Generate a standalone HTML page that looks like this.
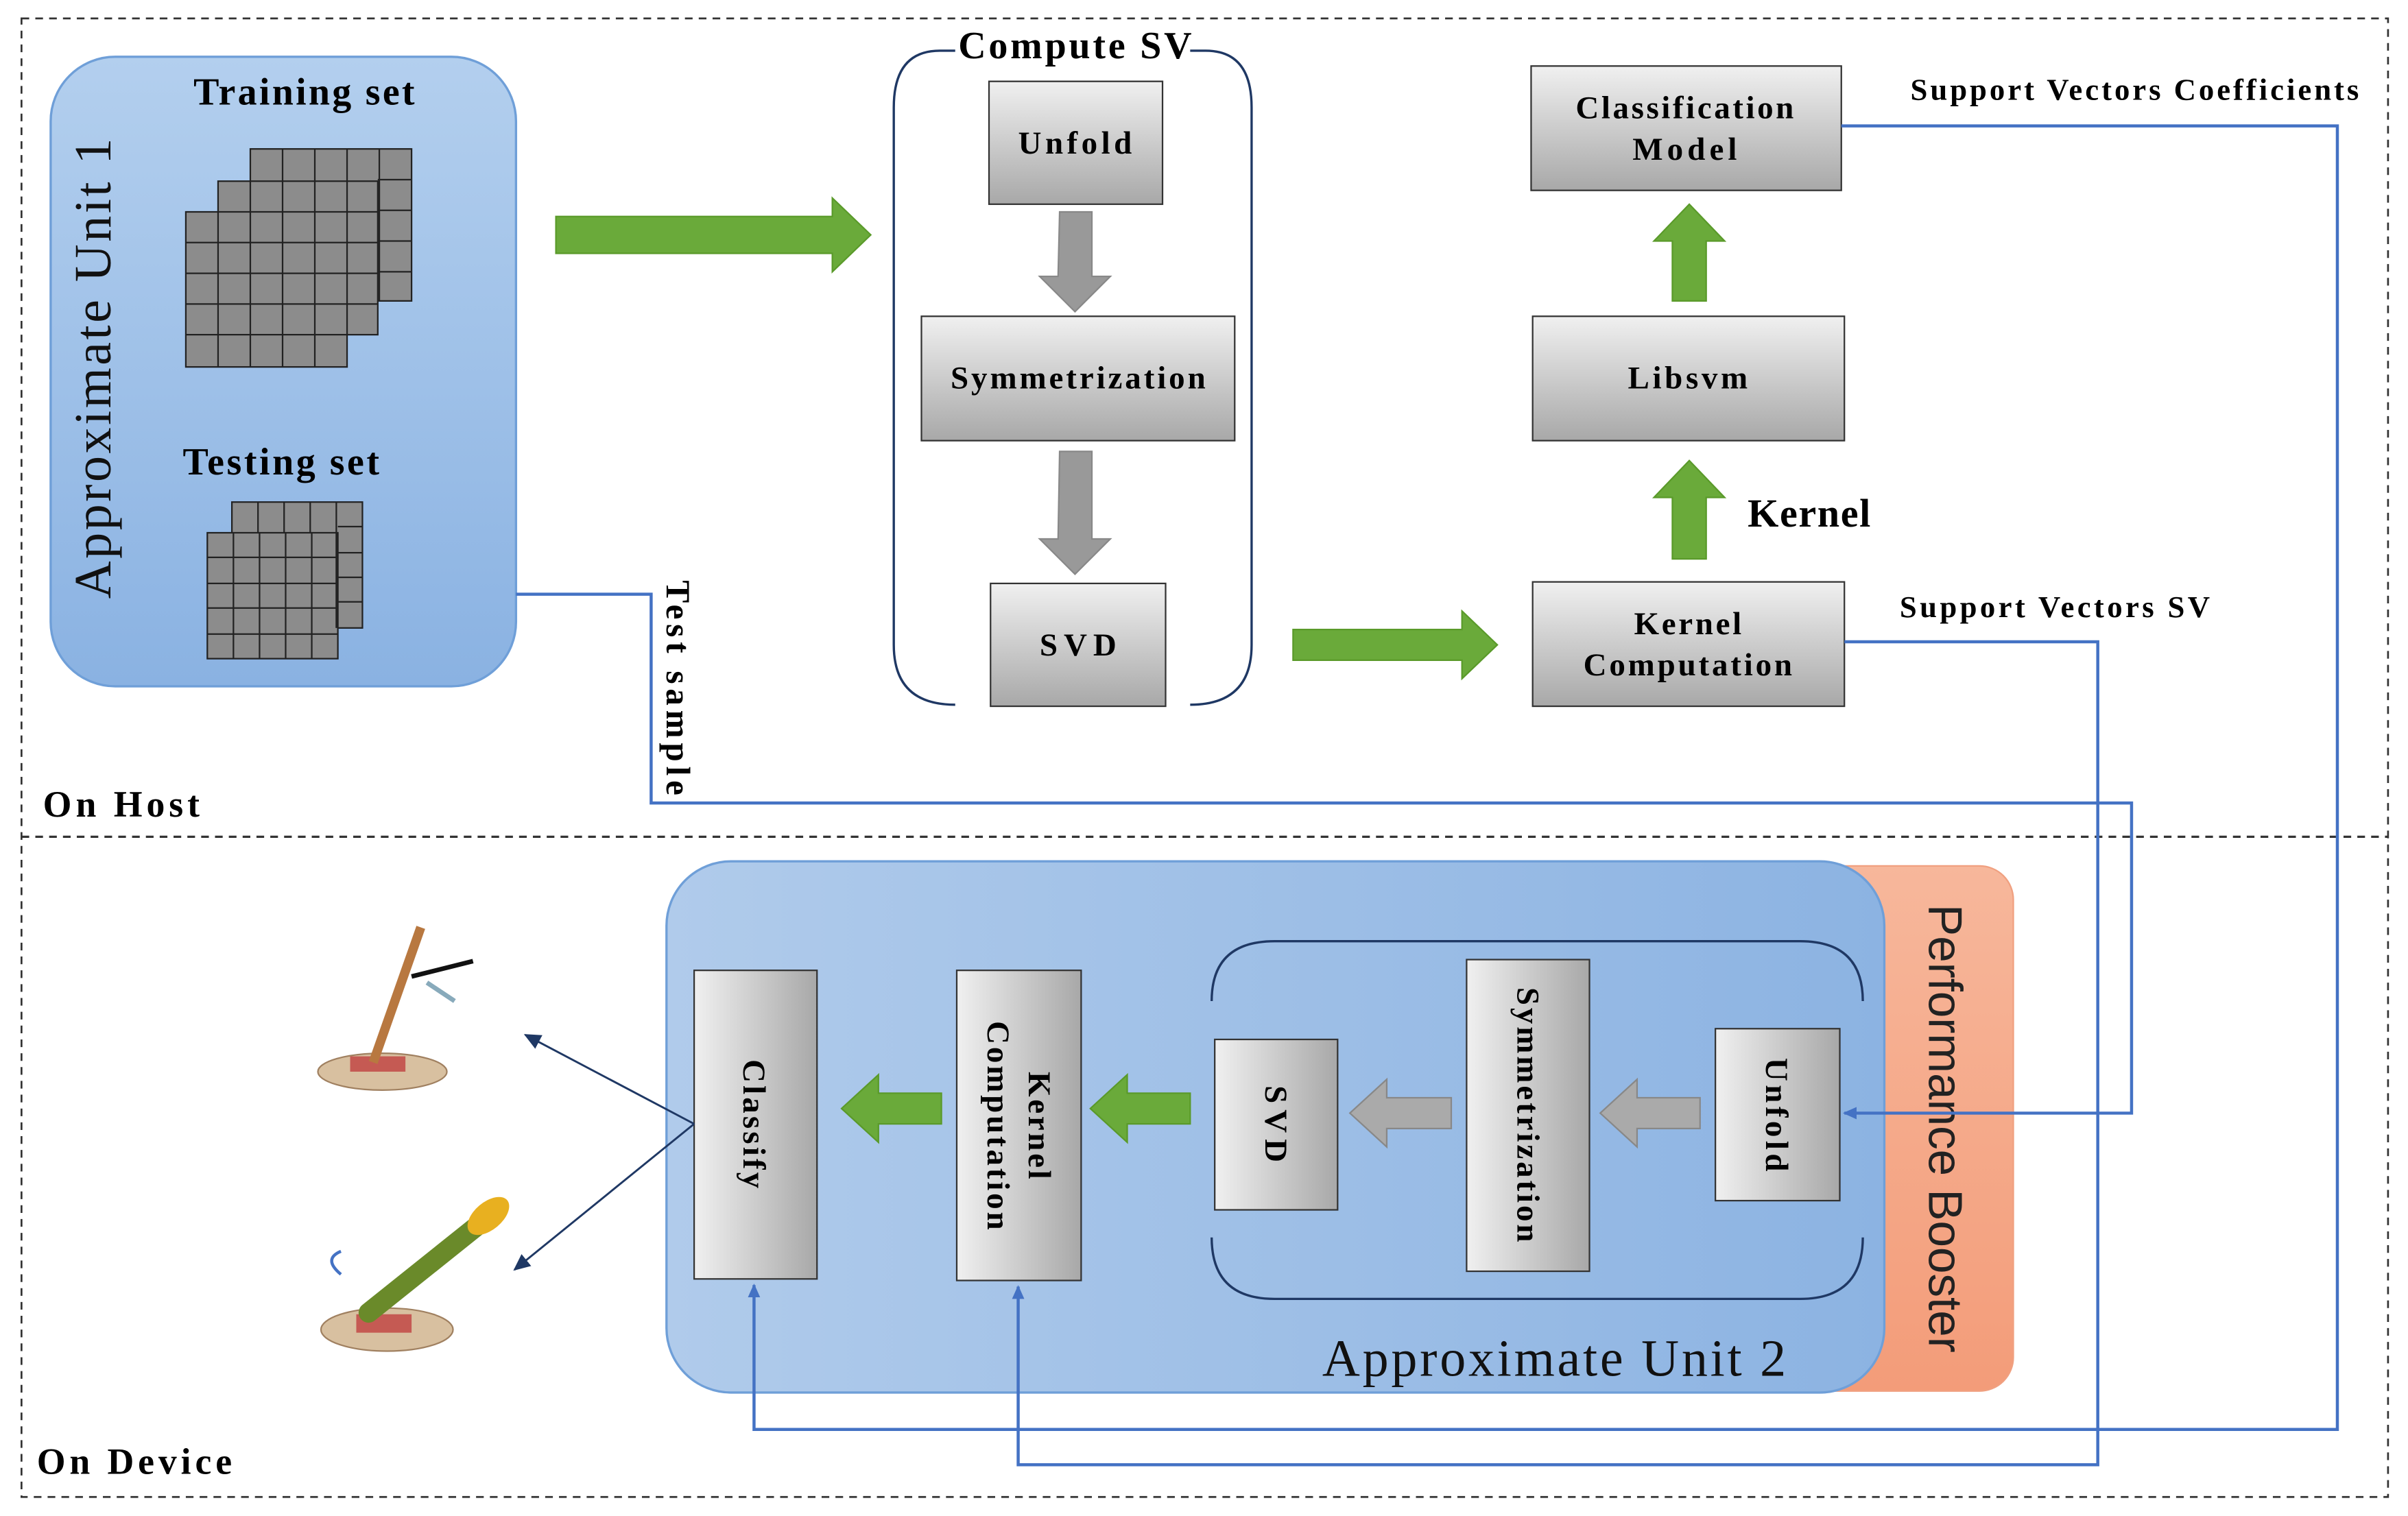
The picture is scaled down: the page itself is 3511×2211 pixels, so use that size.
<!DOCTYPE html>
<html><head><meta charset="utf-8">
<style>
html,body{margin:0;padding:0;background:#fff;}
svg{display:block;}
text{font-family:"Liberation Serif",serif;}
.b{font-weight:bold;}
</style></head>
<body>
<svg width="3511" height="2211" viewBox="0 0 1568 987.4" preserveAspectRatio="none" xmlns="http://www.w3.org/2000/svg">
<defs>
<linearGradient id="au1" x1="0" y1="0" x2="0" y2="1"><stop offset="0" stop-color="#b3cfee"/><stop offset="1" stop-color="#8ab2e2"/></linearGradient>
<linearGradient id="au2" x1="0" y1="0" x2="1" y2="0"><stop offset="0" stop-color="#b0cbeb"/><stop offset="1" stop-color="#8cb3e2"/></linearGradient>
<linearGradient id="gb" x1="0" y1="0" x2="0" y2="1"><stop offset="0" stop-color="#f0f0f0"/><stop offset="1" stop-color="#a8a8a8"/></linearGradient>
<linearGradient id="gbh" x1="0" y1="0" x2="1" y2="0"><stop offset="0" stop-color="#f0f0f0"/><stop offset="1" stop-color="#a8a8a8"/></linearGradient>
<linearGradient id="or" x1="0" y1="0" x2="0" y2="1"><stop offset="0" stop-color="#f7b79b"/><stop offset="1" stop-color="#f39c79"/></linearGradient>
<marker id="ab" markerWidth="10" markerHeight="10" refX="8" refY="5" orient="auto" markerUnits="userSpaceOnUse"><path d="M0,1 L9,5 L0,9 Z" fill="#4472c4"/></marker>
<marker id="ad" markerWidth="12" markerHeight="12" refX="10" refY="6" orient="auto" markerUnits="userSpaceOnUse"><path d="M0,1 L11,6 L0,11 Z" fill="#1f3864"/></marker>
</defs>

<rect x="14" y="12" width="1541" height="963" fill="none" stroke="#333" stroke-width="1.2" stroke-dasharray="5,4"/>
<line x1="14" y1="545" x2="1555" y2="545" stroke="#333" stroke-width="1.5" stroke-dasharray="5,4"/>
<text x="28" y="532" font-size="24" class="b" textLength="102">On Host</text>
<text x="24" y="960" font-size="24" class="b" textLength="127">On Device</text>

<rect x="33" y="37" width="303" height="410" rx="42" fill="url(#au1)" stroke="#6f9fd8" stroke-width="1.5"/>
<text transform="translate(72,240) rotate(-90)" text-anchor="middle" font-size="34" fill="#111" textLength="300">Approximate Unit 1</text>
<text x="198" y="68" text-anchor="middle" font-size="25" class="b" textLength="144">Training set</text>
<text x="183" y="309" text-anchor="middle" font-size="25" class="b" textLength="128">Testing set</text>
<g stroke="#222" stroke-width="1">
<rect x="163" y="97" width="105" height="99" fill="#8c8c8c"/>
<rect x="142" y="118" width="104" height="100" fill="#8c8c8c"/>
<rect x="121" y="138" width="105" height="101" fill="#8c8c8c"/>
<rect x="151" y="327" width="85" height="82" fill="#8c8c8c"/>
<rect x="135" y="347" width="85" height="82" fill="#8c8c8c"/>
</g>
<g stroke="#222" stroke-width="1" fill="none">
<path d="M184,97V118M205,97V118M226,97V118M247,97V196M246,117H268M246,137H268M246,157H268M246,177H268"/>
<path d="M163,118V138M184,118V138M205,118V138M226,118V138M226,138H246M226,158H246M226,178H246M226,198H246"/>
<path d="M142,138V239M163,138V239M184,138V239M205,138V239M121,158H226M121,178H226M121,198H226M121,218H226"/>
<path d="M168,327V347M185,327V347M202,327V347M219,327V409M220,343H236M220,360H236M220,376H236M220,392H236"/>
<path d="M152,347V429M169,347V429M186,347V429M203,347V429M135,363H220M135,380H220M135,396H220M135,413H220"/>
</g>

<path d="M362,141 H542 V129 L567,153 L542,177 V165 H362 Z" fill="#6aaa3a" stroke="#5a9a2a"/>

<path d="M622,33 H612 Q582,33 582,70 V420 Q582,459 622,459" fill="none" stroke="#1f3864" stroke-width="1.5"/>
<path d="M775,33 H785 Q815,33 815,70 V420 Q815,459 775,459" fill="none" stroke="#1f3864" stroke-width="1.5"/>
<text x="700" y="38" text-anchor="middle" font-size="25" class="b" textLength="152">Compute SV</text>

<g stroke="#333" stroke-width="1">
<rect x="644" y="53" width="113" height="80" fill="url(#gb)"/>
<rect x="600" y="206" width="204" height="81" fill="url(#gb)"/>
<rect x="645" y="380" width="114" height="80" fill="url(#gb)"/>
<rect x="998" y="379" width="203" height="81" fill="url(#gb)"/>
<rect x="998" y="206" width="203" height="81" fill="url(#gb)"/>
<rect x="997" y="43" width="202" height="81" fill="url(#gb)"/>
</g>
<g font-size="21" class="b" text-anchor="middle">
<text x="700" y="100" textLength="74">Unfold</text>
<text x="702" y="253" textLength="166">Symmetrization</text>
<text x="702" y="427" textLength="50">SVD</text>
<text x="1099" y="413" textLength="70">Kernel</text>
<text x="1099" y="440" textLength="136">Computation</text>
<text x="1099" y="253" textLength="78">Libsvm</text>
<text x="1097" y="77" textLength="142">Classification</text>
<text x="1097" y="104" textLength="68">Model</text>
</g>
<path d="M690,138 H711 V180 H723 L700,203 L677,180 H689 Z" fill="#999" stroke="#888"/>
<path d="M690,294 H711 V351 H723 L700,374 L677,351 H689 Z" fill="#999" stroke="#888"/>
<path d="M842,410 H952 V398 L975,420 L952,442 V430 H842 Z" fill="#6aaa3a" stroke="#5a9a2a"/>
<path d="M1089,364 V324 H1077 L1100,300 L1123,324 H1111 V364 Z" fill="#6aaa3a" stroke="#5a9a2a"/>
<path d="M1089,196 V157 H1077 L1100,133 L1123,157 H1111 V196 Z" fill="#6aaa3a" stroke="#5a9a2a"/>
<text x="1138" y="343" font-size="26" class="b" textLength="80">Kernel</text>

<text x="1244" y="65" font-size="20" class="b" textLength="292">Support Vectors Coefficients</text>
<text x="1237" y="402" font-size="20" class="b" textLength="202">Support Vectors SV</text>

<rect x="1150" y="564" width="161" height="342" rx="22" fill="url(#or)" stroke="#f0a080"/>
<text transform="translate(1256,735) rotate(90)" text-anchor="middle" font-size="31" style="font-family:'Liberation Sans',sans-serif" fill="#222" textLength="292">Performance Booster</text>
<rect x="434" y="561" width="793" height="346" rx="42" fill="url(#au2)" stroke="#6f9fd8" stroke-width="1.5"/>
<text x="1012" y="896" text-anchor="middle" font-size="34" fill="#111" textLength="302">Approximate Unit 2</text>
<path d="M789,652 Q789,613 830,613 H1172 Q1213,613 1213,652" fill="none" stroke="#1f3864" stroke-width="1.5"/>
<path d="M789,806 Q789,846 830,846 H1172 Q1213,846 1213,806" fill="none" stroke="#1f3864" stroke-width="1.5"/>

<g stroke="#333" stroke-width="1">
<rect x="452" y="632" width="80" height="201" fill="url(#gbh)"/>
<rect x="623" y="632" width="81" height="202" fill="url(#gbh)"/>
<rect x="791" y="677" width="80" height="111" fill="url(#gbh)"/>
<rect x="955" y="625" width="80" height="203" fill="url(#gbh)"/>
<rect x="1117" y="670" width="81" height="112" fill="url(#gbh)"/>
</g>
<g font-size="21" class="b" text-anchor="middle">
<text transform="translate(484,732) rotate(90)" textLength="84">Classify</text>
<text transform="translate(670,733) rotate(90)" textLength="70">Kernel</text>
<text transform="translate(643,733) rotate(90)" textLength="136">Computation</text>
<text transform="translate(824,732) rotate(90)" textLength="50">SVD</text>
<text transform="translate(988,726) rotate(90)" textLength="166">Symmetrization</text>
<text transform="translate(1150,726) rotate(90)" textLength="74">Unfold</text>
</g>
<path d="M613,712 H572 V700 L548,722 L572,744 V732 H613 Z" fill="#6aaa3a" stroke="#5a9a2a"/>
<path d="M775,712 H734 V700 L710,722 L734,744 V732 H775 Z" fill="#6aaa3a" stroke="#5a9a2a"/>
<path d="M945,715 H903 V703 L879,725 L903,747 V735 H945 Z" fill="#aaa" stroke="#888"/>
<path d="M1107,715 H1066 V703 L1042,725 L1066,747 V735 H1107 Z" fill="#aaa" stroke="#888"/>

<g fill="none" stroke="#4472c4" stroke-width="2">
<path d="M1199,82 H1522 V931 H491 V837" marker-end="url(#ab)"/>
<path d="M1201,418 H1366 V954 H663 V838" marker-end="url(#ab)"/>
<path d="M336,387 H424 V523 H1388 V725 H1201" marker-end="url(#ab)"/>
</g>
<text transform="translate(434,378) rotate(90)" font-size="22" class="b" textLength="140">Test sample</text>

<g stroke="#1f3864" stroke-width="1.3" fill="none">
<line x1="452" y1="732" x2="342" y2="674" marker-end="url(#ad)"/>
<line x1="452" y1="732" x2="335" y2="827" marker-end="url(#ad)"/>
</g>

<g>
<ellipse cx="249" cy="698" rx="42" ry="12" fill="#d8c0a0" stroke="#a08060"/>
<rect x="228" y="688" width="36" height="10" fill="#c04040" opacity="0.8"/>
<line x1="243" y1="692" x2="274" y2="604" stroke="#b87840" stroke-width="6"/>
<line x1="268" y1="636" x2="308" y2="626" stroke="#111" stroke-width="3"/>
<line x1="278" y1="640" x2="296" y2="652" stroke="#8ab" stroke-width="3"/>
<ellipse cx="252" cy="866" rx="43" ry="14" fill="#d8c0a0" stroke="#a08060"/>
<rect x="232" y="856" width="36" height="12" fill="#c04040" opacity="0.8"/>
<line x1="240" y1="855" x2="315" y2="795" stroke="#6a8a2a" stroke-width="13" stroke-linecap="round"/>
<ellipse cx="318" cy="792" rx="16" ry="9" transform="rotate(-40 318 792)" fill="#e8b020"/>
<path d="M222,830 Q210,820 222,815" stroke="#4472c4" stroke-width="2" fill="none"/>
</g>
</svg>
</body></html>
